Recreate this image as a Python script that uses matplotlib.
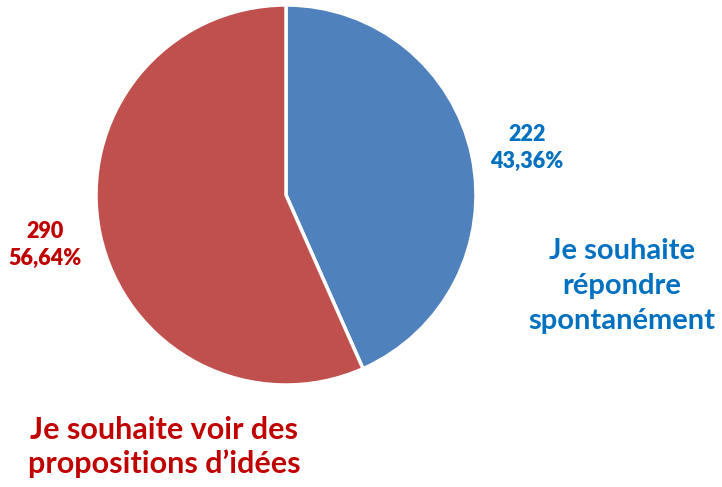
import matplotlib.pyplot as plt

labels = ['Je souhaite\nrépondre\nspontanément', 'Je souhaite voir des\npropositions d\u2019idées']
counts = [222, 290]
percents = ['43,36%', '56,64%']
slice_colors = ['#4F81BD', '#C0504D']
text_colors = ['#0070C0', '#C00000']

plt.rcParams['font.family'] = ['Lato', 'DejaVu Sans']

fig = plt.figure(figsize=(7.22, 4.87), dpi=100)
ax = fig.add_axes([0, 0, 1, 1])

ax.pie(counts, colors=slice_colors, startangle=90, counterclock=False,
       center=(286, 292), radius=190, frame=True,
       wedgeprops=dict(edgecolor='white', linewidth=2.5))
ax.set_xlim(0, 722)
ax.set_ylim(0, 487)
ax.set_aspect('equal')
ax.axis('off')

# value labels
ax.text(527, 339, f'{counts[0]}\n{percents[0]}', color=text_colors[0],
        fontsize=15.5, fontweight='heavy', ha='center', va='center', linespacing=1.4)
ax.text(45, 242, f'{counts[1]}\n{percents[1]}', color=text_colors[1],
        fontsize=15.5, fontweight='heavy', ha='center', va='center', linespacing=1.4)

# category labels
ax.text(622, 201, labels[0], color=text_colors[0], fontsize=21,
        fontweight='bold', ha='center', va='center', linespacing=1.45)
ax.text(164, 40, labels[1], color=text_colors[1], fontsize=22,
        fontweight='bold', ha='center', va='center', linespacing=1.24)

fig.savefig('out.png', dpi=100)
